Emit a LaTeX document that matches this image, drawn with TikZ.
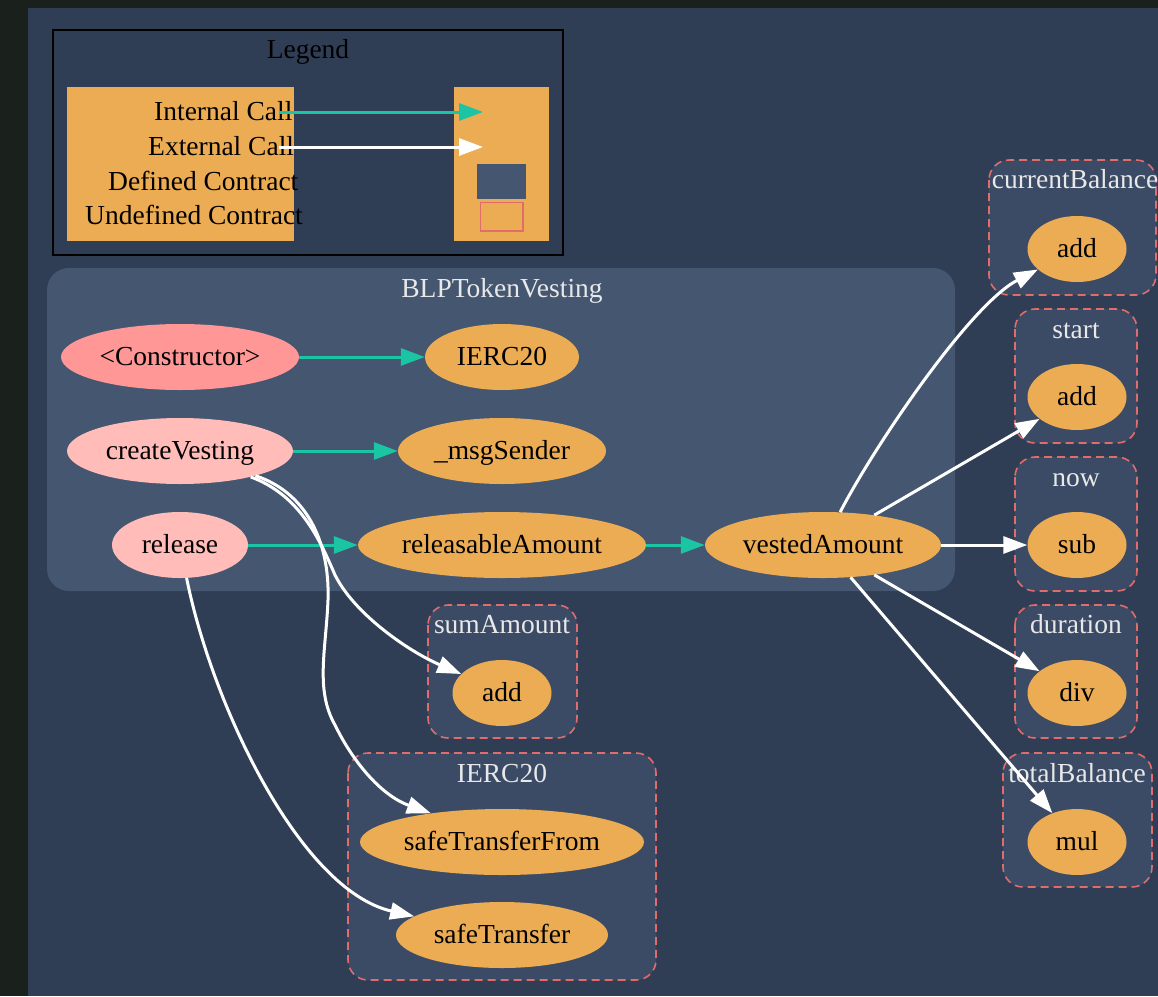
\documentclass[tikz,border=0pt]{standalone}
\usepackage{fontspec}
\setmainfont{Liberation Serif}
\usetikzlibrary{arrows.meta,shapes.geometric}
\definecolor{outerbg}{HTML}{1A201B}
\definecolor{mainbg}{HTML}{2F3D55}
\definecolor{clusterbg}{HTML}{445670}
\definecolor{subbg}{HTML}{3C4B65}
\definecolor{dashred}{HTML}{E06C6C}
\definecolor{orangefill}{HTML}{ECAC54}
\definecolor{ctorfill}{HTML}{FF9797}
\definecolor{pubfill}{HTML}{FFBCB8}
\definecolor{tealc}{HTML}{1BC5A4}
\definecolor{labelc}{HTML}{E8E8E8}
\begin{document}
\begin{tikzpicture}[x=1pt,y=-1pt,
  txt/.style={font=\fontsize{27.5}{32}\selectfont},
  fn/.style={ellipse, fill=orangefill, inner sep=0pt, txt, text=black,
             text height=22pt, text depth=6pt, minimum height=66pt},
  pubfn/.style={fn, fill=pubfill},
  ctorfn/.style={fn, fill=ctorfill},
  subcl/.style={draw=dashred, fill=subbg, dash pattern=on 8pt off 5pt,
                line width=1.6pt, rounded corners=20pt},
  clab/.style={txt, text=labelc, anchor=base, inner sep=0pt},
  leglab/.style={txt, text=black, anchor=base west, inner sep=0pt},
  intcall/.style={draw=tealc, line width=3pt, -{Triangle[length=24pt,width=17pt]}},
  extcall/.style={draw=white, line width=3pt, -{Triangle[length=24pt,width=17pt]}}
]
\useasboundingbox (0,0) rectangle (1158,996);
% backgrounds
\fill[outerbg] (0,0) rectangle (1158,996);
\fill[mainbg] (28,8) rectangle (1158,996);

% legend
\draw[black, line width=1.6pt, fill=mainbg] (52.7,30) rectangle (563,255);
\node[txt, text=black, anchor=base, inner sep=0pt] (legtitle) at (308,58) {Legend};
\fill[orangefill] (67,87) rectangle (294,241);
\fill[orangefill] (454,87) rectangle (549,241);
\node[leglab] (lint) at (154,120) {Internal Call};
\node[leglab] (lext) at (148,155) {External Call};
\node[leglab] (ldef) at (108,190) {Defined Contract};
\node[leglab] (lund) at (85,224) {Undefined Contract};
\fill[clusterbg] (477,164) rectangle (526,199);
\draw[dashred, line width=1.3pt] (480.5,202.5) rectangle (523,231);
\coordinate (la1) at (279,112);
\coordinate (la2) at (483,112);
\coordinate (lb1) at (279,147);
\coordinate (lb2) at (483,147);
\draw[intcall] (la1) -- (la2);
\draw[extcall] (lb1) -- (lb2);

% main contract cluster
\fill[clusterbg, rounded corners=22pt] (47,268) rectangle (955,591);
\node[clab] (blpl) at (502,297) {BLPTokenVesting};

% external clusters
\draw[subcl] (989,160) rectangle (1156,295);
\node[clab] (cbl) at (1075,188) {currentBalance};
\draw[subcl] (1015,309) rectangle (1137,443);
\node[clab] (stl) at (1076,338) {start};
\draw[subcl] (1015,457) rectangle (1137,591);
\node[clab] (nowl) at (1076,486) {now};
\draw[subcl] (1015,605) rectangle (1137,738);
\node[clab] (durl) at (1076,633) {duration};
\draw[subcl] (1003,753) rectangle (1152,887);
\node[clab] (tbl) at (1077,782) {totalBalance};
\draw[subcl] (428,605) rectangle (577,738);
\node[clab] (sal) at (502,633) {sumAmount};
\draw[subcl] (348,753) rectangle (656,980);
\node[clab] (ercl) at (502,782) {IERC20};

% nodes
\node[ctorfn, minimum width=238pt] (ctor) at (180,357) {<Constructor>};
\node[fn, minimum width=154pt] (ierc) at (502,357) {IERC20};
\node[pubfn, minimum width=226pt] (cv) at (180,451) {createVesting};
\node[fn, minimum width=208pt] (msg) at (502,451) {\_msgSender};
\node[pubfn, minimum width=136pt] (rel) at (180,545) {release};
\node[fn, minimum width=288pt] (ra) at (502,545) {releasableAmount};
\node[fn, minimum width=236pt] (va) at (823,545) {vestedAmount};

\node[fn, minimum width=99pt] (cbadd) at (1077,249) {add};
\node[fn, minimum width=99pt] (stadd) at (1077,397) {add};
\node[fn, minimum width=99pt] (nowsub) at (1077,545) {sub};
\node[fn, minimum width=99pt] (durdiv) at (1077,693) {div};
\node[fn, minimum width=99pt] (tbmul) at (1077,842) {mul};
\node[fn, minimum width=99pt] (saadd) at (502,693) {add};
\node[fn, minimum width=284pt] (sf) at (502,842) {safeTransferFrom};
\node[fn, minimum width=212pt] (st) at (502,935) {safeTransfer};

% edges
\draw[intcall] (ctor) -- (ierc);
\draw[intcall] (cv) -- (msg);
\draw[intcall] (rel) -- (ra);
\draw[intcall] (ra) -- (va);

\draw[extcall] (va) .. controls (875,445) and (970,305) .. (cbadd);
\draw[extcall] (va) -- (stadd);
\draw[extcall] (va) -- (nowsub);
\draw[extcall] (va) -- (durdiv);
\draw[extcall] (va) -- (tbmul);

\draw[extcall] (cv) .. controls (300,495) and (320,540) .. (335,575)
  .. controls (355,615) and (410,652) .. (saadd.155);
\draw[extcall] (cv) .. controls (305,492) and (330,540) .. (328,600)
  .. controls (326,650) and (315,690) .. (335,725)
  .. controls (352,760) and (380,795) .. (sf.158);
\draw[extcall] (rel) .. controls (212,705) and (300,890) .. (st.168);
\end{tikzpicture}
\end{document}
